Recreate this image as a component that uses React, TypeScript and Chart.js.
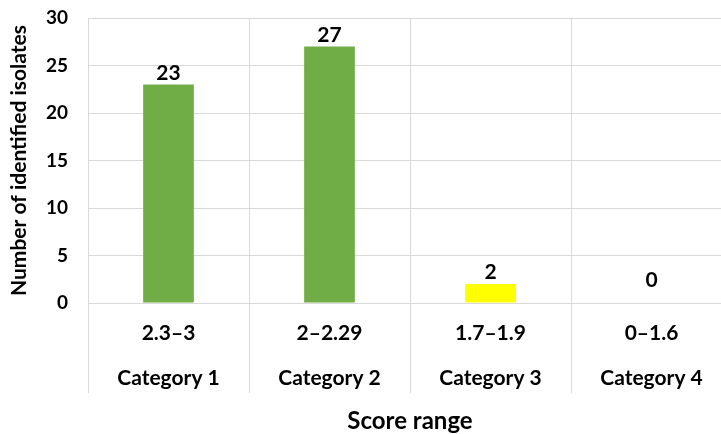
import { useEffect, useRef } from "react";
import { Chart, registerables } from "chart.js";

Chart.register(...registerables);

// Score ranges and their category names (two-line x labels)
const scoreRanges = ["2.3–3", "2–2.29", "1.7–1.9", "0–1.6"];
const categoryNames = ["Category 1", "Category 2", "Category 3", "Category 4"];
// Number of identified isolates per category
const isolateCounts = [23, 27, 2, 0];
const barColors = ["#70AD47", "#70AD47", "#FFFF00", "#FFFF00"];
// Count axis
const yMin = 0;
const yMax = 30;
const yStep = 5;

const FONT = "Lato, 'Noto Sans', sans-serif";
const GRID = "#D9D9D9";

const valueLabels = {
  id: "valueLabels",
  afterDatasetsDraw(chart: any) {
    const { ctx } = chart;
    const meta = chart.getDatasetMeta(0);
    const data = chart.data.datasets[0].data as number[];
    ctx.save();
    ctx.font = `bold 21px ${FONT}`;
    ctx.fillStyle = "#000";
    ctx.textAlign = "center";
    ctx.textBaseline = "alphabetic";
    meta.data.forEach((bar: any, i: number) => {
      const v = data[i];
      // empty bars get their label lifted clear of the axis line
      const lift = v === 0 ? 16 : 5;
      ctx.fillText(String(v), bar.x, bar.y - lift);
    });
    ctx.restore();
  },
};

export default function App() {
  const ref = useRef<HTMLCanvasElement>(null);

  useEffect(() => {
    if (!ref.current) return;
    const labels = scoreRanges.map((r, i) => [r, categoryNames[i]]);
    const chart = new Chart(ref.current, {
      type: "bar",
      data: {
        labels,
        datasets: [
          {
            data: isolateCounts,
            backgroundColor: barColors,
            borderWidth: 0,
            categoryPercentage: 1,
            barPercentage: 0.315,
          },
        ],
      },
      options: {
        animation: false,
        responsive: false,
        devicePixelRatio: 1,
        layout: { padding: { left: 0, top: 18, right: 13, bottom: 0 } },
        plugins: {
          legend: { display: false },
          tooltip: { enabled: false },
        },
        scales: {
          x: {
            offset: true,
            grid: {
              offset: true,
              color: GRID,
              lineWidth: 1,
              drawTicks: true,
              tickLength: 90,
            },
            border: { display: false },
            ticks: {
              color: "#000",
              font: { family: FONT, size: 21, weight: "bold", lineHeight: 45 / 21 },
              padding: -82.5,
              maxRotation: 0,
              autoSkip: false,
            },
            title: {
              display: true,
              text: "Score range",
              color: "#000",
              font: { family: FONT, size: 24, weight: "bold", lineHeight: 1.2 },
              padding: { top: 0, bottom: -2 },
            },
            afterFit(scale: any) {
              scale.height = 131;
              scale.paddingLeft = 0;
              scale.paddingRight = 0;
            },
          },
          y: {
            min: yMin,
            max: yMax,
            grid: { color: GRID, lineWidth: 1, drawTicks: false },
            border: { display: false },
            ticks: {
              stepSize: yStep,
              color: "#000",
              font: { family: FONT, size: 19, weight: "bold" },
              padding: 20,
            },
            title: {
              display: true,
              text: "Number of identified isolates",
              color: "#000",
              font: { family: FONT, size: 21, weight: "bold", lineHeight: 1.2 },
              padding: { top: 7, bottom: 0 },
            },
            afterFit(scale: any) {
              scale.width = 88;
              scale.paddingTop = 0;
              scale.paddingBottom = 0;
            },
          },
        },
      },
      plugins: [valueLabels],
    });
    return () => chart.destroy();
  }, []);

  return (
    <div
      style={{
        position: "fixed",
        left: 0,
        top: 0,
        width: 721,
        height: 434,
        overflow: "hidden",
        background: "#fff",
      }}
    >
      <canvas ref={ref} width={745} height={434} style={{ display: "block" }} />
    </div>
  );
}
